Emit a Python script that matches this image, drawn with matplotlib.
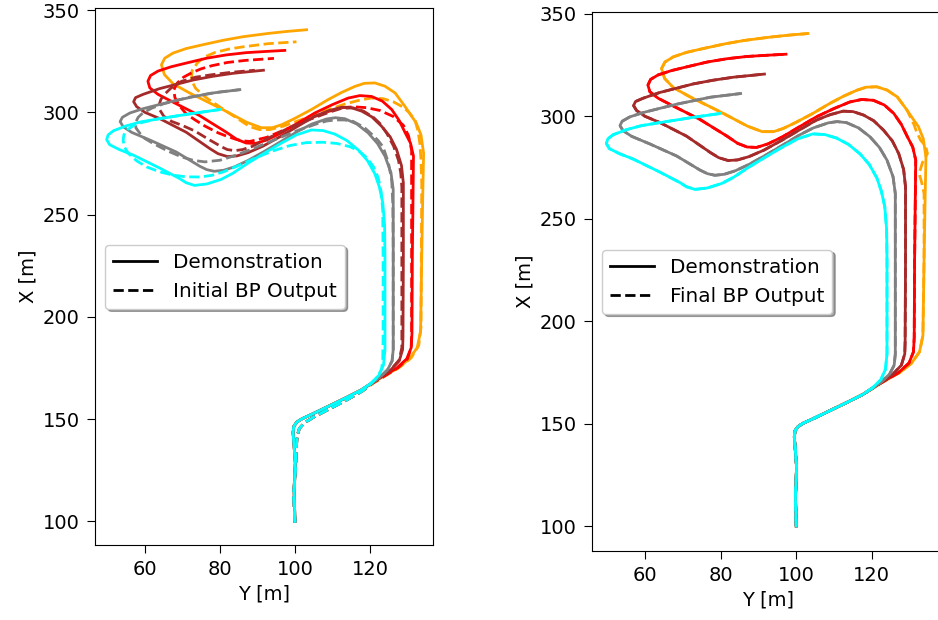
import numpy as np
import matplotlib.pyplot as plt
from matplotlib.lines import Line2D

# (Y, X) points in metres

# common start of the demonstrations (and final BP output)
stem = [(100.0, 100.0), (99.8, 114.0), (100.1, 128.8), (99.7, 138.6), (99.5, 143.5),
        (99.7, 146.5), (100.5, 148.6), (101.9, 150.2), (104.5, 152.4), (108.9, 156.3),
        (113.5, 160.4), (117.6, 164.2)]
# start of the initial BP output
stem_init = [(100.0, 100.0), (99.6, 113.0), (100.2, 127.0), (100.4, 137.0), (100.6, 142.0),
             (101.2, 145.5), (102.5, 148.2), (105.0, 151.0), (109.5, 155.3), (114.0, 159.6),
             (118.0, 163.8)]

demo_orange = [(120.5, 167.5), (123.5, 171.0), (127.5, 175.0), (130.5, 179.5), (132.6, 185.0),
               (133.5, 193.0), (133.8, 229.7), (134.1, 262.0), (134.3, 280.0), (133.6, 289.0),
               (132.3, 295.0), (131.1, 298.1), (129.3, 303.0), (126.7, 309.5), (124.0, 312.8),
               (121.3, 314.4), (118.5, 314.2), (116.0, 312.7), (112.5, 309.8), (108.8, 306.2),
               (104.5, 301.5), (99.9, 297.0), (96.5, 294.0), (94.0, 292.5), (91.0, 292.5),
               (87.1, 295.2), (80.0, 302.1), (71.9, 309.5), (67.5, 314.0), (65.2, 318.5),
               (64.4, 323.3), (65.3, 326.5), (67.5, 329.0), (71.0, 331.2), (75.5, 333.1),
               (81.0, 335.3), (86.2, 337.0), (92.9, 338.6), (98.0, 339.6), (103.1, 340.4)]
demo_red = [(120.3, 167.5), (123.3, 170.8), (127.0, 174.8), (129.8, 179.5), (131.0, 185.0),
            (131.2, 192.0), (131.3, 229.7), (131.5, 262.0), (131.6, 278.6), (130.8, 285.0),
            (129.4, 290.0), (127.8, 296.0), (125.8, 301.4), (123.3, 305.5), (120.4, 307.8),
            (117.3, 308.2), (114.2, 307.0), (110.0, 303.8), (105.3, 299.7), (100.5, 294.5),
            (96.4, 290.0), (92.5, 286.5), (89.5, 284.8), (87.0, 285.0), (84.5, 286.8),
            (81.7, 290.3), (74.6, 298.4), (67.5, 305.0), (63.5, 308.8), (61.3, 312.0),
            (60.8, 315.2), (61.5, 318.0), (63.5, 320.2), (67.0, 322.3), (71.0, 324.1),
            (76.5, 326.5), (81.7, 328.1), (87.0, 329.2), (92.4, 329.8), (97.3, 330.3)]
demo_brown = [(120.2, 167.3), (122.8, 170.5), (125.5, 174.0), (127.8, 178.5), (128.7, 184.0),
              (128.8, 190.0), (128.9, 229.7), (128.9, 265.5), (128.4, 274.0), (127.1, 281.8),
              (125.4, 288.0), (123.1, 293.2), (120.5, 297.8), (117.8, 300.6), (115.0, 302.3),
              (112.4, 302.5), (109.0, 300.8), (105.3, 298.1), (101.0, 293.5), (96.4, 288.5),
              (91.5, 283.5), (87.5, 280.3), (84.5, 278.7), (82.0, 278.4), (79.5, 279.8),
              (77.3, 282.3), (71.0, 290.3), (63.9, 297.0), (60.0, 300.0), (57.8, 302.8),
              (57.0, 305.2), (57.5, 307.2), (59.5, 308.8), (63.9, 311.6), (72.8, 315.8),
              (78.0, 317.6), (83.5, 319.1), (91.6, 320.6)]
demo_gray = [(120.2, 167.2), (122.5, 170.3), (124.7, 174.2), (125.9, 178.5), (126.2, 184.0),
             (126.2, 229.7), (126.2, 262.3), (125.6, 270.5), (124.0, 278.6), (122.0, 284.8),
             (119.5, 290.0), (116.5, 294.3), (113.3, 296.9), (110.8, 297.4), (108.5, 296.8),
             (104.5, 294.3), (100.8, 290.8), (96.5, 286.0), (91.9, 281.0), (87.5, 276.5),
             (83.9, 273.4), (81.0, 271.7), (78.5, 271.2), (76.5, 272.0), (74.6, 273.7),
             (68.4, 280.6), (61.3, 286.5), (56.5, 290.2), (54.2, 293.0), (53.4, 295.5),
             (54.0, 297.6), (56.0, 299.7), (59.5, 301.8), (64.0, 303.9), (68.4, 305.9),
             (77.3, 309.3), (85.3, 311.1)]
demo_cyan = [(120.2, 167.5), (122.4, 171.5), (123.6, 176.5), (124.0, 184.0), (124.0, 229.7),
             (123.9, 245.0), (123.4, 256.0), (122.5, 263.5), (121.3, 270.0), (119.3, 276.5),
             (116.9, 281.6), (113.8, 286.3), (110.6, 289.4), (107.5, 291.1), (104.4, 291.4),
             (100.4, 289.0), (96.4, 285.0), (91.8, 280.0), (87.5, 275.2), (83.5, 270.3),
             (80.3, 267.2), (76.5, 265.0), (73.2, 264.3), (71.0, 265.6), (69.3, 267.6),
             (63.9, 272.8), (56.8, 279.2), (53.2, 281.8), (50.6, 284.2), (49.8, 286.7),
             (50.2, 289.0), (51.6, 291.0), (55.0, 293.4), (59.0, 295.4), (63.9, 296.9),
             (72.8, 299.5), (80.0, 301.4)]

init_orange = [(121.0, 167.7), (124.2, 171.3), (128.0, 175.5), (131.0, 180.0), (133.0, 186.0),
               (133.6, 195.0), (133.8, 265.2), (133.6, 277.0), (133.3, 284.8), (132.8, 291.0),
               (132.0, 296.2), (130.5, 299.8), (128.9, 302.5), (126.2, 305.2), (123.5, 306.7),
               (120.3, 307.0), (117.3, 306.0), (113.5, 304.2), (110.0, 302.0), (105.5, 299.0),
               (101.0, 296.0), (97.0, 293.3), (93.3, 291.6), (90.5, 291.6), (88.0, 293.0),
               (84.0, 297.8), (80.0, 302.6), (76.0, 307.6), (73.5, 311.8), (72.4, 315.8),
               (72.6, 320.5), (74.0, 324.2), (75.8, 327.0), (78.7, 329.3), (82.5, 331.0),
               (86.0, 332.0), (92.9, 333.6), (100.4, 334.5)]
init_red = [(120.7, 167.6), (123.8, 171.0), (127.5, 175.2), (130.0, 179.5), (131.0, 185.0),
            (131.1, 192.0), (131.1, 265.2), (131.1, 281.5), (130.3, 288.5), (128.9, 293.7),
            (126.2, 298.0), (122.7, 300.9), (119.1, 302.3), (115.8, 302.7), (112.9, 302.4),
            (109.0, 300.5), (105.0, 297.8), (101.0, 294.5), (97.0, 291.3), (92.5, 287.8),
            (88.0, 285.8), (85.8, 286.1), (84.0, 287.0), (81.6, 288.5), (79.5, 290.0),
            (76.0, 293.3), (73.3, 296.4), (71.0, 299.3), (69.3, 303.0), (68.0, 307.2),
            (67.7, 310.9), (68.6, 314.3), (70.3, 317.2), (72.5, 319.4), (75.0, 321.3),
            (77.8, 322.8), (82.0, 324.4), (86.7, 325.4), (94.4, 326.4)]
init_brown = [(120.5, 167.4), (123.0, 170.8), (125.7, 174.5), (127.8, 179.0), (128.5, 185.0),
              (128.5, 190.0), (128.5, 263.6), (128.2, 270.5), (127.6, 276.6), (126.3, 283.5),
              (124.5, 289.7), (122.8, 294.3), (120.9, 297.6), (118.3, 300.6), (115.5, 302.2),
              (112.5, 302.0), (109.3, 300.2), (104.0, 296.6), (98.7, 292.7), (93.0, 287.5),
              (88.5, 283.3), (86.0, 281.8), (84.0, 281.3), (82.0, 281.8), (80.5, 283.1),
              (77.0, 286.8), (73.3, 290.9), (70.0, 293.6), (67.1, 295.6), (65.0, 298.2),
              (64.0, 301.1), (63.8, 303.8), (64.3, 306.5), (65.5, 309.3), (66.9, 311.8),
              (69.8, 315.2), (73.5, 317.2), (77.8, 318.4), (83.0, 319.6), (89.3, 320.6)]
init_gray = [(120.3, 167.3), (122.5, 170.3), (124.7, 174.2), (125.9, 178.5), (126.2, 184.0),
             (126.2, 234.2), (126.1, 255.0), (125.8, 266.8), (124.9, 275.5), (123.5, 283.1),
             (122.2, 286.2), (120.9, 288.6), (118.5, 292.6), (115.5, 295.6), (113.2, 296.3),
             (111.0, 296.3), (108.5, 295.8), (105.8, 294.4), (100.5, 291.0), (95.1, 287.0),
             (89.5, 282.8), (84.4, 279.1), (80.0, 276.6), (76.0, 275.8), (73.0, 276.5),
             (69.8, 278.2), (66.0, 281.2), (62.2, 284.8), (60.0, 287.2), (58.7, 289.7),
             (57.6, 292.4), (57.5, 295.0), (58.2, 297.6), (59.5, 299.8), (62.0, 302.2),
             (65.0, 304.2), (72.0, 307.5), (80.0, 310.0), (85.3, 311.1)]
init_cyan = [(120.2, 167.2), (122.0, 170.6), (123.1, 174.5), (123.4, 179.0), (123.5, 190.0),
             (123.5, 227.7), (123.4, 252.2), (123.0, 261.0), (122.2, 268.0), (120.9, 273.5),
             (119.1, 277.9), (117.0, 281.2), (114.7, 283.2), (111.2, 284.8), (107.5, 285.4),
             (103.0, 285.2), (98.7, 283.8), (94.2, 281.2), (89.8, 278.0), (85.2, 274.2),
             (80.9, 270.9), (77.8, 269.2), (74.7, 268.4), (71.0, 268.5), (67.5, 269.3),
             (63.8, 271.0), (60.5, 273.3), (57.8, 276.3), (55.6, 279.9), (54.5, 283.2),
             (54.2, 286.4), (54.4, 289.0), (55.3, 291.5), (57.0, 293.6), (59.5, 295.2),
             (64.0, 297.0), (72.8, 299.5), (80.0, 301.4)]

# final BP output only leaves the demonstration on the orange run
final_orange = [(120.5, 167.5), (123.5, 171.0), (127.5, 175.0), (130.5, 179.5), (132.6, 185.0),
                (133.5, 193.0), (133.8, 229.7), (133.8, 262.3), (133.2, 267.5), (132.5, 272.1),
                (133.4, 277.5), (134.7, 281.8), (134.2, 285.5), (132.9, 288.3), (131.8, 292.5),
                (131.2, 295.7), (129.3, 303.0), (126.7, 309.5), (124.0, 312.8), (121.3, 314.4),
                (118.5, 314.2), (116.0, 312.7), (112.5, 309.8), (108.8, 306.2), (104.5, 301.5),
                (99.9, 297.0), (96.5, 294.0), (94.0, 292.5), (91.0, 292.5), (87.1, 295.2),
                (80.0, 302.1), (71.9, 309.5), (67.5, 314.0), (65.2, 318.5), (64.4, 323.3),
                (65.3, 326.5), (67.5, 329.0), (71.0, 331.2), (75.5, 333.1), (81.0, 335.3),
                (86.2, 337.0), (92.9, 338.6), (98.0, 339.6), (103.1, 340.4)]

colors = ['orange', 'red', 'brown', 'gray', 'cyan']
demos = [demo_orange, demo_red, demo_brown, demo_gray, demo_cyan]
inits = [init_orange, init_red, init_brown, init_gray, init_cyan]
finals = [final_orange, demo_red, demo_brown, demo_gray, demo_cyan]


def xy(start, pts):
    a = np.array(start + pts)
    return a[:, 0], a[:, 1]


fig = plt.figure(figsize=(9.38, 6.2), dpi=100)
ax1 = fig.add_axes([0.1013, 0.121, 0.3603, 0.866])
ax2 = fig.add_axes([0.6311, 0.1113, 0.375, 0.869])

panels = [(ax1, inits, stem_init, 'Initial BP Output', (46.7, 136.8), (88.5, 351.0)),
          (ax2, finals, stem, 'Final BP Output', (46.0, 139.0), (87.8, 350.8))]

for ax, bp, bp_stem, bp_label, xl, yl in panels:
    for c, d, b in zip(colors, demos, bp):
        y, x = xy(stem, d)
        ax.plot(y, x, '-', color=c, lw=2, solid_joinstyle='round')
        y, x = xy(bp_stem, b)
        ax.plot(y, x, '--', color=c, lw=2, dash_joinstyle='round')
    ax.set_xlim(*xl)
    ax.set_ylim(*yl)
    ax.set_xticks([60, 80, 100, 120])
    ax.set_yticks([100, 150, 200, 250, 300, 350])
    ax.tick_params(labelsize=14, length=5.5, pad=5.5)
    ax.set_xlabel('Y [m]', fontsize=14)
    ax.set_ylabel('X [m]', fontsize=14)
    handles = [Line2D([], [], color='k', ls='-', lw=2),
               Line2D([], [], color='k', ls='--', lw=2)]
    ax.legend(handles, ['Demonstration', bp_label], loc='center left',
              fontsize=14.4, shadow=True, handlelength=2.2)

plt.savefig('out.png', dpi=100)
